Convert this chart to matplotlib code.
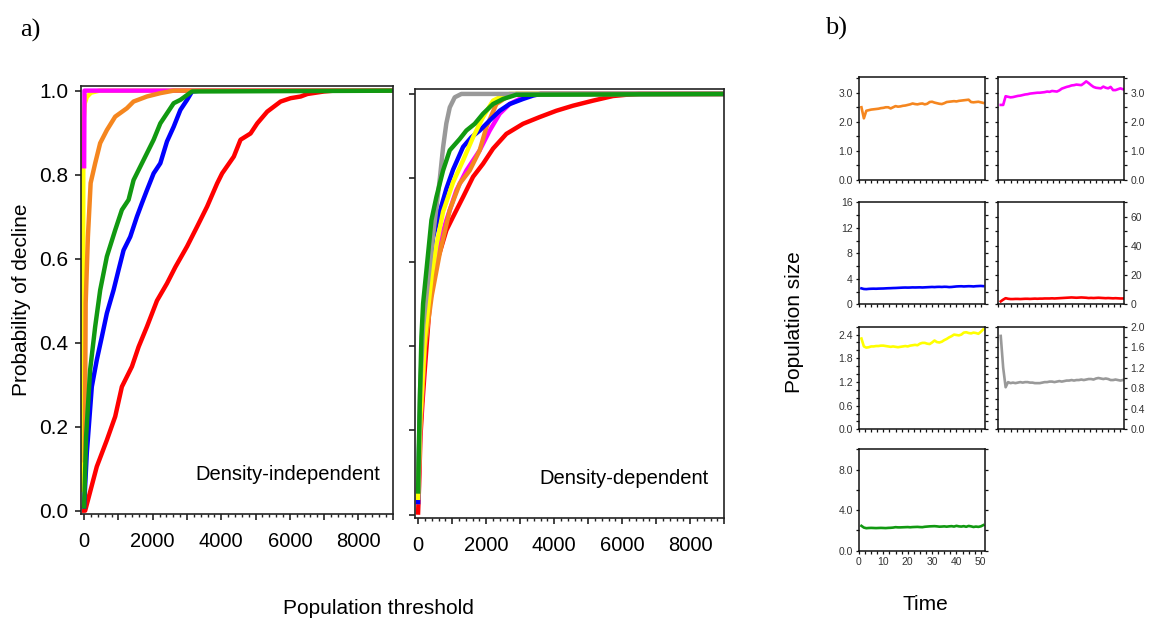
import numpy as np
import matplotlib
matplotlib.use("Agg")
import matplotlib.pyplot as plt
from matplotlib.ticker import MultipleLocator, FixedLocator

plt.rcParams['font.family'] = ['Liberation Sans', 'DejaVu Sans']

# ---------------- colours ----------------
C_RED = '#ff0000'
C_BLUE = '#0000ff'
C_GREEN = '#119911'
C_ORANGE = '#f5861f'
C_YELLOW = '#ffff00'
C_MAGENTA = '#ff00ff'
C_GRAY = '#999999'

# ---------------- a) cumulative probability of decline ----------------
# Density-independent model: population threshold vs probability
di_red_x = [0, 30, 370, 663, 906, 1101, 1394, 1589, 1832, 2125, 2417, 2661, 3002, 3294, 3587,
            3879, 4025, 4366, 4561, 4854, 5049, 5341, 5731, 6023, 6316, 6511, 7000, 7300, 9500]
di_red_p = [0.0, 0.0, 0.105, 0.168, 0.224, 0.295, 0.343, 0.39, 0.438, 0.50, 0.541, 0.58, 0.629, 0.676, 0.724,
            0.779, 0.803, 0.843, 0.883, 0.898, 0.922, 0.95, 0.974, 0.982, 0.986, 0.992, 0.998, 1.0, 1.0]
di_blue_x = [0, 78, 224, 370, 517, 663, 858, 1004, 1150, 1345, 1540, 1686, 1832, 2027, 2222,
             2417, 2612, 2807, 3002, 3148, 3392, 9500]
di_blue_p = [0.01, 0.137, 0.295, 0.359, 0.414, 0.47, 0.525, 0.573, 0.62, 0.652, 0.70, 0.732, 0.763, 0.803, 0.827,
             0.879, 0.914, 0.954, 0.978, 0.998, 1.0, 1.0]
di_green_x = [0, 58, 175, 322, 468, 663, 906, 1101, 1296, 1442, 1637, 1832, 2027, 2222, 2417,
              2612, 2807, 3148, 9500]
di_green_p = [0.01, 0.176, 0.335, 0.438, 0.525, 0.605, 0.668, 0.716, 0.74, 0.787, 0.819, 0.851, 0.883, 0.922, 0.946,
              0.97, 0.978, 0.998, 1.0]
di_orange_x = [20, 45, 110, 190, 322, 468, 663, 906, 1247, 1442, 1832, 2222, 2612, 9500]
di_orange_p = [0.12, 0.494, 0.652, 0.78, 0.827, 0.875, 0.906, 0.938, 0.958, 0.974, 0.986, 0.994, 1.0, 1.0]
di_yellow_x = [-30, -25, -15, 20, 80, 200, 450, 9500]
di_yellow_p = [0.05, 0.8, 0.93, 0.97, 0.985, 0.995, 1.0, 1.0]
di_magenta_x = [0, 10, 9500]
di_magenta_p = [0.82, 1.0, 1.0]

# Density-dependent model
dd_red_x = [0, 29, 69, 127, 196, 343, 538, 832, 1028, 1322, 1615, 1909, 2203, 2594, 3084,
            3573, 4063, 4552, 5140, 5727, 6118, 6500, 9500]
dd_red_p = [0.005, 0.068, 0.186, 0.265, 0.344, 0.502, 0.597, 0.676, 0.708, 0.755, 0.803, 0.834, 0.87, 0.905, 0.929,
            0.945, 0.96, 0.972, 0.984, 0.995, 0.998, 1.0, 1.0]
dd_magenta_x = [0, 60, 200, 350, 538, 832, 1126, 1419, 1811, 2105, 2398, 2692, 2986, 3377, 3600, 9500]
dd_magenta_p = [0.03, 0.2, 0.4, 0.52, 0.621, 0.70, 0.771, 0.818, 0.866, 0.913, 0.953, 0.976, 0.988, 0.998, 1.0, 1.0]
dd_orange_x = [0, 60, 200, 400, 636, 930, 1224, 1517, 1811, 2007, 2300, 2594, 2888, 9500]
dd_orange_p = [0.03, 0.2, 0.4, 0.52, 0.621, 0.724, 0.787, 0.818, 0.866, 0.921, 0.976, 0.992, 1.0, 1.0]
dd_blue_x = [0, 40, 147, 300, 441, 636, 832, 1028, 1322, 1566, 1811, 2105, 2398, 2692, 3084, 3377, 3600, 9500]
dd_blue_p = [0.03, 0.2, 0.423, 0.57, 0.66, 0.72, 0.775, 0.82, 0.874, 0.897, 0.913, 0.937, 0.96, 0.976, 0.988, 0.996, 1.0, 1.0]
dd_yellow_x = [0, 60, 200, 400, 538, 734, 1028, 1322, 1615, 1909, 2203, 2496, 2700, 9500]
dd_yellow_p = [0.04, 0.22, 0.42, 0.57, 0.64, 0.72, 0.79, 0.842, 0.897, 0.945, 0.984, 0.996, 1.0, 1.0]
dd_gray_x = [0, 60, 150, 294, 420, 540, 640, 734, 830, 931, 1077, 1273, 9500]
dd_gray_p = [0.06, 0.3, 0.45, 0.557, 0.65, 0.731, 0.80, 0.873, 0.93, 0.968, 0.992, 1.0, 1.0]
dd_green_x = [0, 20, 49, 98, 147, 245, 392, 538, 734, 930, 1224, 1419, 1664, 1909, 2203, 2496, 2888, 9500]
dd_green_p = [0.055, 0.15, 0.265, 0.423, 0.502, 0.581, 0.70, 0.755, 0.818, 0.866, 0.893, 0.913, 0.929, 0.953,
              0.976, 0.988, 0.998, 1.0]

# ---------------- b) population size through time ----------------
time = np.arange(1, 52)
pop_orange = [2.50, 2.12, 2.38, 2.40, 2.42, 2.43, 2.44, 2.45, 2.47, 2.48,
              2.50, 2.50, 2.46, 2.50, 2.54, 2.52, 2.53, 2.55, 2.56, 2.58,
              2.60, 2.63, 2.61, 2.60, 2.62, 2.63, 2.60, 2.62, 2.68, 2.69,
              2.66, 2.64, 2.62, 2.61, 2.64, 2.68, 2.69, 2.70, 2.71, 2.70,
              2.72, 2.73, 2.74, 2.75, 2.76, 2.68, 2.67, 2.68, 2.69, 2.67, 2.65]
pop_magenta = [2.58, 2.58, 2.88, 2.86, 2.84, 2.85, 2.87, 2.89, 2.90, 2.92,
               2.94, 2.95, 2.97, 2.98, 2.99, 3.00, 3.00, 3.01, 3.02, 3.04,
               3.03, 3.06, 3.05, 3.04, 3.08, 3.14, 3.17, 3.20, 3.22, 3.25,
               3.26, 3.28, 3.27, 3.26, 3.32, 3.39, 3.33, 3.26, 3.20, 3.17,
               3.16, 3.15, 3.21, 3.17, 3.15, 3.20, 3.09, 3.09, 3.12, 3.15, 3.12]
pop_blue = [2.50, 2.40, 2.38, 2.42, 2.44, 2.45, 2.44, 2.46, 2.47, 2.48,
            2.50, 2.52, 2.53, 2.55, 2.56, 2.58, 2.60, 2.62, 2.63, 2.62,
            2.63, 2.65, 2.64, 2.65, 2.66, 2.64, 2.66, 2.68, 2.70, 2.72,
            2.70, 2.73, 2.74, 2.72, 2.75, 2.74, 2.70, 2.72, 2.76, 2.80,
            2.82, 2.83, 2.80, 2.82, 2.84, 2.83, 2.80, 2.84, 2.86, 2.88, 2.85]
pop_red = [2.0, 3.2, 4.2, 3.8, 3.6, 3.6, 3.7, 3.7, 3.6, 3.7,
           3.8, 3.8, 3.7, 3.8, 3.9, 3.8, 3.9, 3.9, 4.0, 4.0,
           4.0, 4.1, 4.0, 4.1, 4.2, 4.3, 4.4, 4.5, 4.6, 4.7,
           4.6, 4.5, 4.6, 4.7, 4.6, 4.5, 4.3, 4.4, 4.3, 4.4,
           4.5, 4.4, 4.3, 4.2, 4.3, 4.2, 4.1, 4.2, 4.1, 4.0, 4.0]
pop_yellow = [2.30, 2.10, 2.07, 2.08, 2.10, 2.10, 2.11, 2.11, 2.12, 2.12,
              2.11, 2.10, 2.09, 2.10, 2.09, 2.08, 2.09, 2.10, 2.11, 2.10,
              2.12, 2.13, 2.14, 2.13, 2.17, 2.19, 2.19, 2.17, 2.16, 2.20,
              2.25, 2.21, 2.20, 2.22, 2.26, 2.29, 2.33, 2.36, 2.40, 2.39,
              2.38, 2.40, 2.45, 2.46, 2.44, 2.43, 2.45, 2.44, 2.42, 2.47, 2.53]
pop_gray = [1.82, 1.20, 0.82, 0.92, 0.90, 0.91, 0.90, 0.91, 0.92, 0.91,
            0.92, 0.92, 0.91, 0.91, 0.90, 0.90, 0.90, 0.91, 0.92, 0.92,
            0.93, 0.93, 0.92, 0.93, 0.94, 0.93, 0.94, 0.95, 0.95, 0.96,
            0.95, 0.96, 0.96, 0.97, 0.96, 0.97, 0.98, 0.98, 0.97, 0.99,
            1.00, 0.99, 0.98, 0.99, 0.98, 0.96, 0.96, 0.97, 0.96, 0.95, 0.96]
pop_green = [2.45, 2.28, 2.22, 2.24, 2.25, 2.24, 2.23, 2.24, 2.25, 2.24,
             2.23, 2.25, 2.26, 2.28, 2.32, 2.30, 2.30, 2.31, 2.32, 2.33,
             2.31, 2.33, 2.34, 2.35, 2.33, 2.32, 2.36, 2.38, 2.40, 2.41,
             2.42, 2.40, 2.37, 2.38, 2.40, 2.37, 2.40, 2.42, 2.38, 2.45,
             2.40, 2.38, 2.42, 2.36, 2.44, 2.40, 2.34, 2.38, 2.35, 2.40, 2.52]

W, H = 1151, 621
fig = plt.figure(figsize=(W / 100, H / 100), dpi=100)


def px_axes(left, top, right, bottom):
    return fig.add_axes([left / W, 1 - bottom / H, (right - left) / W, (bottom - top) / H])


SPINE = '#222222'
LW_A = 3.2


def style_a(ax, show_ylabels):
    for s in ax.spines.values():
        s.set_linewidth(1.2)
        s.set_color(SPINE)
    ax.set_xlim(-100, 9000)
    ax.set_ylim(-0.008, 1.011)
    ax.xaxis.set_major_locator(MultipleLocator(1000))
    ax.xaxis.set_minor_locator(MultipleLocator(200))
    ax.xaxis.set_major_formatter(plt.FuncFormatter(lambda v, p: f"{int(v)}" if int(v) % 2000 == 0 else ""))
    ax.yaxis.set_major_locator(FixedLocator([0, 0.2, 0.4, 0.6, 0.8, 1.0]))
    ax.yaxis.set_major_formatter(plt.FuncFormatter(lambda v, p: f"{v:.1f}"))
    ax.tick_params(axis='both', which='major', direction='out', length=4, width=1.2,
                   color=SPINE, labelsize=15, pad=5)
    ax.tick_params(axis='x', which='minor', direction='out', length=2.2, width=1.0, color=SPINE)
    ax.tick_params(axis='x', which='major', labelsize=14.5, pad=9)
    if not show_ylabels:
        ax.tick_params(axis='y', labelleft=False)


# a) left: density-independent
ax1 = px_axes(80.7, 86, 392.7, 514)
ax1.plot(di_red_x, di_red_p, color=C_RED, lw=LW_A, solid_joinstyle='round')
ax1.plot(di_blue_x, di_blue_p, color=C_BLUE, lw=LW_A, solid_joinstyle='round')
ax1.plot(di_yellow_x, di_yellow_p, color=C_YELLOW, lw=LW_A, solid_joinstyle='round')
ax1.plot(di_magenta_x, di_magenta_p, color=C_MAGENTA, lw=LW_A, solid_joinstyle='round')
ax1.plot(di_orange_x, di_orange_p, color=C_ORANGE, lw=LW_A, solid_joinstyle='round')
ax1.plot(di_green_x, di_green_p, color=C_GREEN, lw=LW_A, solid_joinstyle='round')
style_a(ax1, True)
ax1.text(8650, 0.085, 'Density-independent', ha='right', va='center', fontsize=14.5)
ax1.set_ylabel('Probability of decline', fontsize=15, labelpad=6)

# a) right: density-dependent
ax2 = px_axes(414.7, 89.3, 724.3, 518)
ax2.plot(dd_red_x, dd_red_p, color=C_RED, lw=LW_A, solid_joinstyle='round')
ax2.plot(dd_magenta_x, dd_magenta_p, color=C_MAGENTA, lw=LW_A, solid_joinstyle='round')
ax2.plot(dd_orange_x, dd_orange_p, color=C_ORANGE, lw=LW_A, solid_joinstyle='round')
ax2.plot(dd_blue_x, dd_blue_p, color=C_BLUE, lw=LW_A, solid_joinstyle='round')
ax2.plot(dd_yellow_x, dd_yellow_p, color=C_YELLOW, lw=LW_A, solid_joinstyle='round')
ax2.plot(dd_gray_x, dd_gray_p, color=C_GRAY, lw=LW_A, solid_joinstyle='round')
ax2.plot(dd_green_x, dd_green_p, color=C_GREEN, lw=LW_A, solid_joinstyle='round')
style_a(ax2, False)
ax2.text(8540, 0.086, 'Density-dependent', ha='right', va='center', fontsize=14.5)

fig.text(378 / W, 1 - 609 / H, 'Population threshold', ha='center', va='center', fontsize=15)

# b) small multiples
cols = [(859, 984.7), (998.3, 1124.3)]
rows = [(77.3, 180), (202.3, 304.3), (326.7, 429.3), (449.3, 550.7)]

panels = [
    (0, 0, pop_orange, C_ORANGE, 3.53, 0.5, [0, 1, 2, 3], '{:.1f}'),
    (0, 1, pop_magenta, C_MAGENTA, 3.53, 0.5, [0, 1, 2, 3], '{:.1f}'),
    (1, 0, pop_blue, C_BLUE, 16, 2, [0, 4, 8, 12, 16], '{:.0f}'),
    (1, 1, pop_red, C_RED, 70, 10, [0, 20, 40, 60], '{:.0f}'),
    (2, 0, pop_yellow, C_YELLOW, 2.6, 0.2, [0, 0.6, 1.2, 1.8, 2.4], '{:.1f}'),
    (2, 1, pop_gray, C_GRAY, 2.0, 0.2, [0, 0.4, 0.8, 1.2, 1.6, 2.0], '{:.1f}'),
    (3, 0, pop_green, C_GREEN, 10, 2, [0, 4, 8], '{:.1f}'),
]

TXT_B = '#333333'
for r, c, vals, col, ymax, ystep, ylabs, fmt in panels:
    top, bottom = rows[r]
    left, right = cols[c]
    ax = px_axes(left, top, right, bottom)
    ax.plot(time, vals, color=col, lw=1.9)
    ax.set_xlim(0, 51.6)
    ax.set_ylim(0, ymax)
    for s in ax.spines.values():
        s.set_linewidth(1.1)
        s.set_color('#111111')
    ax.xaxis.set_major_locator(MultipleLocator(10))
    ax.xaxis.set_minor_locator(MultipleLocator(2.5))
    ax.yaxis.set_major_locator(FixedLocator(ylabs))
    ax.yaxis.set_minor_locator(MultipleLocator(ystep))
    ax.yaxis.set_major_formatter(plt.FuncFormatter(lambda v, p, f=fmt: f.format(v)))
    ax.tick_params(axis='both', which='both', direction='out', length=2.5, width=0.9,
                   color='#111111', labelsize=7.5, labelcolor=TXT_B, pad=2)
    ax.tick_params(axis='y', which='both', left=True, right=True)
    if c == 1:
        ax.tick_params(axis='y', labelleft=False, labelright=True)
    if r != 3:
        ax.tick_params(axis='x', labelbottom=False)

fig.text(795 / W, 1 - 322 / H, 'Population size', rotation=90, ha='center', va='center', fontsize=15)
fig.text(925 / W, 1 - 605 / H, 'Time', ha='center', va='center', fontsize=15)

fig.text(20 / W, 1 - 30 / H, 'a)', ha='left', va='center', fontsize=19,
         family=['Liberation Serif', 'DejaVu Serif'])
fig.text(825 / W, 1 - 28 / H, 'b)', ha='left', va='center', fontsize=19,
         family=['Liberation Serif', 'DejaVu Serif'])

fig.savefig('out.png', dpi=100)
